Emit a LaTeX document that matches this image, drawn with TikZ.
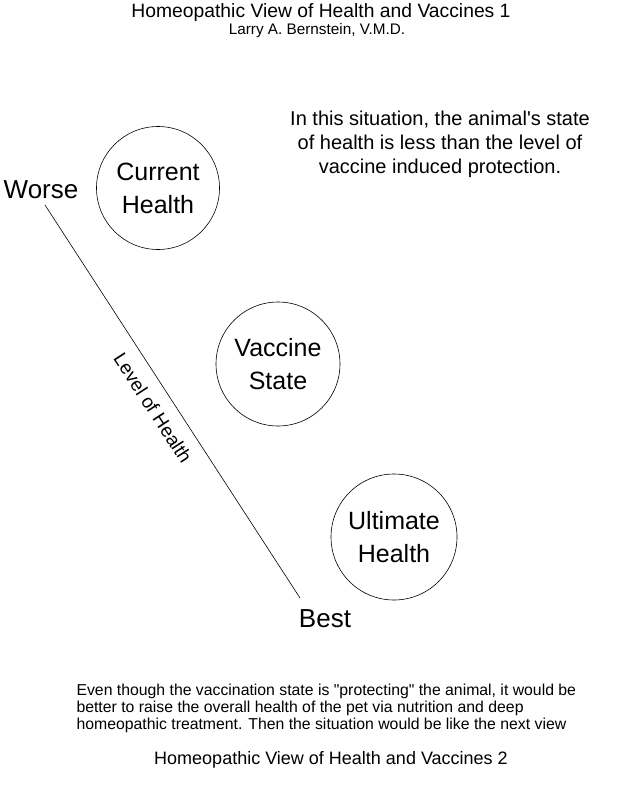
\documentclass[tikz,border=0pt]{standalone}
\usepackage{fontspec}
\setmainfont{Liberation Sans}[Ligatures=TeXOff]
\begin{document}
\begin{tikzpicture}[x=1pt,y=-1pt,
  bubble/.style={draw, line width=0.6pt, circle, inner sep=0pt, align=center, font=\fontsize{25}{33}\selectfont},
  axislabel/.style={font=\fontsize{26}{30}\selectfont},
  axisline/.style={draw, line width=0.6pt}]
\useasboundingbox[fill=white] (0,0) rectangle (621,797);
\node[font=\fontsize{19.3}{22}\selectfont] (title) at (321,13) {Homeopathic View of Health and Vaccines 1};
\node[font=\fontsize{15.3}{18}\selectfont] (author) at (317,31) {Larry A. Bernstein, V.M.D.};
\node[font=\fontsize{20}{24}\selectfont, align=center] (note) at (440,144) {In this situation, the animal's state\\of health is less than the level of\\vaccine induced protection.};
\node[bubble, minimum size=123pt] (current) at (158,188) {Current\\Health};
\node[bubble, minimum size=124pt] (vaccine) at (278,364) {Vaccine\\State};
\node[bubble, minimum size=126pt] (ultimate) at (394,537) {Ultimate\\Health};
\node[axislabel] (worse) at (41,190) {Worse};
\node[axislabel] (best) at (325,619) {Best};
\coordinate (ltop) at (45,205);
\coordinate (lbot) at (300,598);
\draw[axisline] (ltop) -- (lbot);
\node[font=\fontsize{19}{22}\selectfont, rotate=-57] (level) at (153,408) {Level of Health};
\node[font=\fontsize{15.8}{16.6}\selectfont, align=left, anchor=north west] (body) at (73,681) {Even though the vaccination state is "protecting" the animal, it would be\\better to raise the overall health of the pet via nutrition and deep\\homeopathic treatment. Then the situation would be like the next view};
\node[font=\fontsize{18}{22}\selectfont] (next) at (331,760) {Homeopathic View of Health and Vaccines 2};
\end{tikzpicture}
\end{document}
